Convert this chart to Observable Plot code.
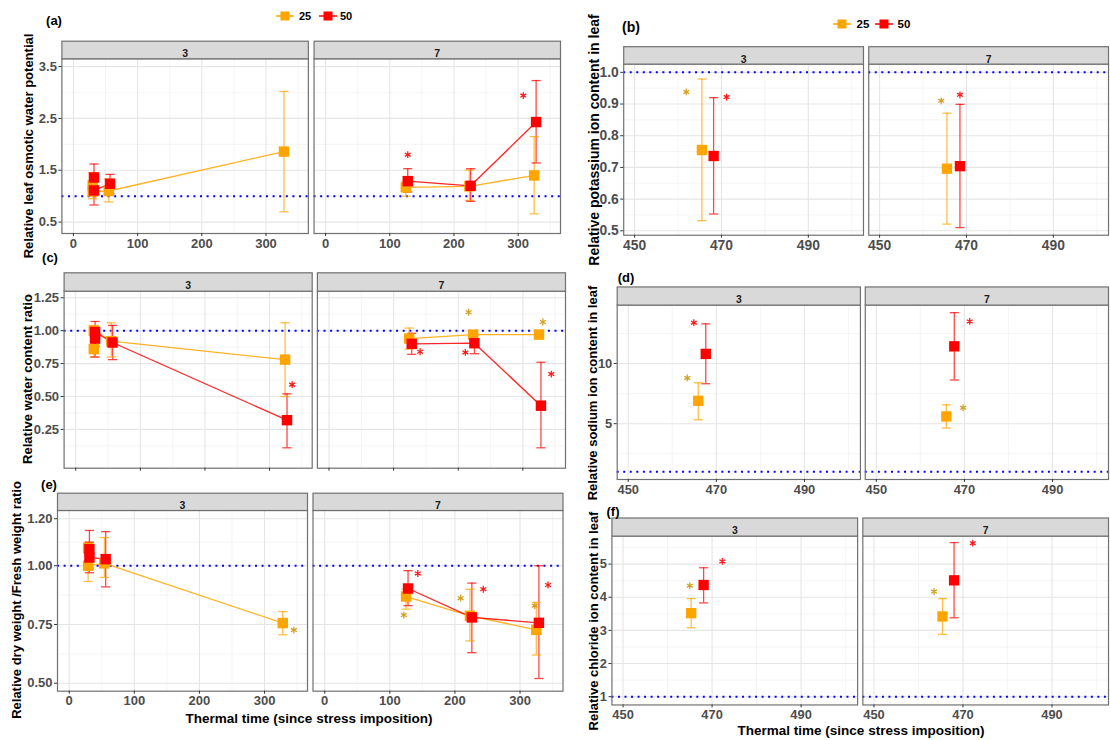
<!DOCTYPE html>
<html><head><meta charset="utf-8">
<script src="https://cdn.jsdelivr.net/npm/d3@7"></script>
<script src="https://cdn.jsdelivr.net/npm/@observablehq/plot@0.6"></script>
<style>
html,body{margin:0;padding:0;background:#fff;}
body{width:1110px;height:740px;position:relative;overflow:hidden;font-family:"Liberation Sans",Arial,sans-serif;}
.sub{position:absolute;}
.tag{position:absolute;font-weight:bold;font-size:13px;color:#000;transform:translate(-50%,-50%);white-space:nowrap;}
.ytitle{position:absolute;font-weight:bold;font-size:13px;color:#000;white-space:nowrap;transform:translate(-50%,-50%) rotate(-90deg);}
.xtitle{position:absolute;font-weight:bold;font-size:13.5px;color:#000;white-space:nowrap;transform:translate(-50%,-50%);}
.lg{position:absolute;transform:translate(-50%,-50%);font-weight:bold;font-size:11px;color:#000;}
</style></head><body>
<script>
// ---------------- data ----------------
const facets = ["3", "7"];
const doses = ["25", "50"];
const leftXTicks = [0, 100, 200, 300];
const leftXLabels = ["0", "100", "200", "300"];
const leftXMinor = [50, 150, 250, 350];
const rightXTicks = [450, 470, 490];
const rightXLabels = ["450", "470", "490"];
const rightXMinor = [460, 480, 500];

// (a) relative leaf osmotic water potential
const a_facet = ["3","3","3","3","3","3","3","7","7","7","7","7","7"];
const a_dose  = ["25","25","25","25","50","50","50","25","25","25","50","50","50"];
const a_time  = [30,30,55,328, 32,32,57, 125,224,325, 128,226,328];
const a_value = [1.21,1.09,1.10,1.86, 1.36,1.11,1.24, 1.17,1.19,1.40, 1.29,1.20,2.43];
const a_low   = [0.95,null,0.89,0.70, 1.10,0.83,1.05, 1.00,0.92,0.66, 1.08,0.90,1.64];
const a_high  = [1.45,null,1.33,3.02, 1.62,1.36,1.42, 1.27,1.50,2.15, 1.53,1.53,3.23];
const a_starFacet = ["7","7"];
const a_starDose  = ["50","50"];
const a_starTime  = [128, 308];
const a_starValue = [1.80, 2.94];
const a_yTicks = [0.5, 1.5, 2.5, 3.5];
const a_yLabels = ["0.5", "1.5", "2.5", "3.5"];
const a_yMinor = [1.0, 2.0, 3.0];

// (b) relative potassium ion content in leaf
const b_facet = ["3","3","7","7"];
const b_dose  = ["25","50","25","50"];
const b_time  = [465.5, 468.2, 465.5, 468.5];
const b_value = [0.755, 0.736, 0.696, 0.704];
const b_low   = [0.532, 0.553, 0.521, 0.510];
const b_high  = [0.979, 0.920, 0.871, 0.899];
const b_starFacet = ["3","3","7","7"];
const b_starDose  = ["25","50","25","50"];
const b_starTime  = [461.9, 471.2, 464.2, 468.5];
const b_starValue = [0.938, 0.922, 0.910, 0.929];
const b_yTicks = [0.5, 0.6, 0.7, 0.8, 0.9, 1.0];
const b_yLabels = ["0.5", "0.6", "0.7", "0.8", "0.9", "1.0"];
const b_yMinor = [0.55, 0.65, 0.75, 0.85, 0.95];

// (c) relative water content ratio
const c_facet = ["3","3","3","3","3","3","3","3","7","7","7","7","7","7"];
const c_dose  = ["25","25","25","25","50","50","50","50","25","25","25","50","50","50"];
const c_time  = [28,28,55,324, 30,30,57,327, 124,223,325, 128,225,328];
const c_value = [0.86,1.00,0.92,0.78, 0.94,0.99,0.91,0.32, 0.94,0.97,0.97, 0.90,0.905,0.43];
const c_low   = [0.80,0.95,0.80,0.50, 0.80,0.88,0.78,0.11, 0.86,0.94,0.95, 0.82,0.825,0.11];
const c_high  = [0.92,1.04,1.06,1.06, 1.02,1.07,1.04,0.52, 1.02,1.00,0.99, 0.98,0.97,0.76];
const c_starFacet = ["3","7","7","7","7","7"];
const c_starDose  = ["50","25","25","50","50","50"];
const c_starTime  = [335, 216, 331, 141, 211, 344];
const c_starValue = [0.59, 1.14, 1.066, 0.84, 0.835, 0.67];
const c_yTicks = [0.25, 0.5, 0.75, 1.0, 1.25];
const c_yLabels = ["0.25", "0.50", "0.75", "1.00", "1.25"];
const c_yMinor = [0.125, 0.375, 0.625, 0.875, 1.125];

// (d) relative sodium ion content in leaf
const d_facet = ["3","3","7","7"];
const d_dose  = ["25","50","25","50"];
const d_time  = [465.9, 467.6, 465.9, 467.7];
const d_value = [6.9, 10.8, 5.6, 11.43];
const d_low   = [5.33, 8.32, 4.64, 8.63];
const d_high  = [8.4, 13.3, 6.57, 14.23];
const d_starFacet = ["3","3","7","7"];
const d_starDose  = ["25","50","25","50"];
const d_starTime  = [463.4, 464.9, 469.7, 471.2];
const d_starValue = [8.8, 13.4, 6.32, 13.5];
const d_yTicks = [5, 10];
const d_yLabels = ["5", "10"];
const d_yMinor = [2.5, 7.5, 12.5];

// (e) relative dry weight / fresh weight ratio
const e_facet = ["3","3","3","3","3","3","3","7","7","7","7","7","7"];
const e_dose  = ["25","25","25","25","50","50","50","25","25","25","50","50","50"];
const e_time  = [29,29,54,328, 31,31,56, 125,223,325, 128,226,329];
const e_value = [1.075,1.00,1.01,0.756, 1.07,1.035,1.028, 0.869,0.787,0.727, 0.903,0.78,0.757];
const e_low   = [1.00,0.933,0.95,0.706, 0.99,0.97,0.91, 0.815,0.68,0.62, 0.83,0.63,0.52];
const e_high  = [1.10,1.07,1.12,0.805, 1.15,1.10,1.145, 0.90,0.90,0.844, 0.979,0.926,1.00];
const e_starFacet = ["3","7","7","7","7","7","7"];
const e_starDose  = ["25","25","50","25","50","25","50"];
const e_starTime  = [345, 121.5, 143, 208.7, 243.6, 322.6, 343];
const e_starValue = [0.726, 0.79, 0.967, 0.862, 0.90, 0.83, 0.918];
const e_yTicks = [0.5, 0.75, 1.0, 1.2];
const e_yLabels = ["0.50", "0.75", "1.00", "1.20"];
const e_yMinor = [0.625, 0.875, 1.1];

// (f) relative chloride ion content in leaf
const f_facet = ["3","3","7","7"];
const f_dose  = ["25","50","25","50"];
const f_time  = [465.3, 468.1, 465.4, 468.0];
const f_value = [3.52, 4.37, 3.42, 4.51];
const f_low   = [3.08, 3.83, 2.88, 3.38];
const f_high  = [3.96, 4.89, 3.96, 5.65];
const f_starFacet = ["3","3","7","7"];
const f_starDose  = ["25","50","25","50"];
const f_starTime  = [465.0, 472.3, 463.5, 472.2];
const f_starValue = [4.35, 5.08, 4.17, 5.63];
const f_yTicks = [1, 2, 3, 4, 5];
const f_yLabels = ["1", "2", "3", "4", "5"];
const f_yMinor = [1.5, 2.5, 3.5, 4.5, 5.5];

// ---------------- helpers ----------------
const COLORS = {"25": "#FFA500", "50": "#FF0000"};
const STAR = {"25": "#D4A020", "50": "#FF1A1A"};

function rows(f, d, t, v, lo, hi) {
  return t.map((_, i) => ({facet: f[i], dose: d[i], time: t[i], value: v[i],
    low: lo ? lo[i] : null, high: hi ? hi[i] : null}));
}
const capSym = {draw(ctx, size) { const r = Math.sqrt(size / Math.PI); ctx.moveTo(-r, 0); ctx.lineTo(r, 0); }};

function addDiv(cls, text, x, y, extra) {
  const el = document.createElement("div");
  el.className = cls; el.textContent = text;
  el.style.left = x + "px"; el.style.top = y + "px";
  if (extra) Object.assign(el.style, extra);
  document.body.appendChild(el);
  return el;
}

function makePanel(cfg) {
  const innerH = cfg.H - cfg.mt - cfg.mb;
  const R = cfg.W - cfg.ml - cfg.mr;
  const step = (R + cfg.gap) / 2;
  const pad = cfg.gap / step;
  const eb = cfg.data.filter(d => d.low != null);
  const fmtX = cfg.hideXLabels ? (() => "") : (d => cfg.xLabels[cfg.xTicks.indexOf(d)]);
  const fmtY = d => cfg.yLabels[cfg.yTicks.indexOf(d)];
  const fs = cfg.fs || 13;
  const marks = [
    Plot.gridY(cfg.yMinor, {stroke: "#f0f0f0", strokeOpacity: 1, strokeWidth: 0.7}),
    Plot.gridX(cfg.xMinor, {stroke: "#f0f0f0", strokeOpacity: 1, strokeWidth: 0.7}),
    Plot.gridY(cfg.yTicks, {stroke: "#e5e5e5", strokeOpacity: 1, strokeWidth: 1.1}),
    Plot.gridX(cfg.xTicks, {stroke: "#e5e5e5", strokeOpacity: 1, strokeWidth: 1.1}),
    Plot.ruleY([1], {stroke: "#0000FF", strokeWidth: 2, strokeDasharray: "2,4.6"}),
    Plot.ruleX(eb, {x: "time", y1: "low", y2: "high", fx: "facet", stroke: d => COLORS[d.dose], strokeOpacity: 0.72, strokeWidth: 1.3}),
    Plot.dot(eb, {x: "time", y: "low", fx: "facet", symbol: capSym, r: 4.6, fill: "none", stroke: d => COLORS[d.dose], strokeOpacity: 0.72, strokeWidth: 1.3}),
    Plot.dot(eb, {x: "time", y: "high", fx: "facet", symbol: capSym, r: 4.6, fill: "none", stroke: d => COLORS[d.dose], strokeOpacity: 0.72, strokeWidth: 1.3})
  ];
  if (cfg.lines) marks.push(Plot.line(cfg.data, {x: "time", y: "value", fx: "facet", z: "dose", stroke: d => COLORS[d.dose], strokeWidth: 1.3, strokeOpacity: 0.85}));
  marks.push(
    Plot.dot(cfg.data, {x: "time", y: "value", fx: "facet", symbol: "square", r: 5.9, fill: d => COLORS[d.dose], stroke: "none"}),
    Plot.dot(cfg.stars, {x: "time", y: "value", fx: "facet", symbol: "asterisk", r: 3.2, stroke: d => STAR[d.dose], strokeWidth: 1.3}),
    Plot.frame({stroke: "#707070", strokeWidth: 1.2}),
    Plot.frame({fill: "#d9d9d9", stroke: "#707070", strokeWidth: 1.2, insetBottom: innerH - cfg.stripH, dy: -cfg.stripH}),
    Plot.text(facets, {fx: d => d, text: d => d, frameAnchor: "top", dy: -cfg.stripH / 2, fontSize: 10.5, fontWeight: "bold", fill: "#1a1a1a"}),
    Plot.axisY({ticks: cfg.yTicks, tickFormat: fmtY, tickSize: 3, tickPadding: 2, fontSize: fs, fontWeight: "bold", fill: "#4d4d4d", stroke: "#333", label: null}),
    Plot.axisX({ticks: cfg.xTicks, tickFormat: fmtX, tickSize: 3, tickPadding: 2, fontSize: fs, fontWeight: "bold", fill: "#4d4d4d", stroke: "#333", label: null})
  );
  const svg = Plot.plot({
    width: cfg.W, height: cfg.H,
    marginLeft: cfg.ml, marginRight: cfg.mr, marginTop: cfg.mt, marginBottom: cfg.mb,
    x: {domain: cfg.xDomain},
    y: {domain: cfg.yDomain},
    fx: {domain: facets, paddingInner: pad, paddingOuter: 0, round: false, axis: null, label: null},
    color: {type: "identity"},
    style: {fontFamily: "Liberation Sans, Arial, sans-serif", overflow: "visible", background: "transparent"},
    marks
  });
  const holder = document.createElement("div");
  holder.className = "sub";
  holder.style.left = cfg.left + "px"; holder.style.top = cfg.top + "px";
  holder.appendChild(svg);
  document.body.appendChild(holder);
}

function legend(xs, y, size) {
  doses.forEach((dose, i) => {
    const k = document.createElement("div");
    k.className = "lg";
    k.style.left = xs[2 * i] + "px"; k.style.top = y + "px";
    k.innerHTML = `<svg width="18" height="12" style="display:block"><line x1="0" x2="18" y1="6" y2="6" stroke="${COLORS[dose]}" stroke-width="1.5"/><rect x="4.5" y="1.5" width="9" height="9" fill="${COLORS[dose]}"/></svg>`;
    document.body.appendChild(k);
    addDiv("lg", dose, xs[2 * i + 1], y, {fontSize: size + "px"});
  });
}

// ---------------- panels ----------------
makePanel({left: 0, top: 0, W: 562, H: 255, ml: 61.4, mr: 2, mt: 58.3, mb: 22, gap: 5.7, stripH: 17.6,
  xDomain: [-18, 366], yDomain: [0.28, 3.65], xTicks: leftXTicks, xLabels: leftXLabels, xMinor: leftXMinor,
  yTicks: a_yTicks, yLabels: a_yLabels, yMinor: a_yMinor, lines: true,
  data: rows(a_facet, a_dose, a_time, a_value, a_low, a_high),
  stars: rows(a_starFacet, a_starDose, a_starTime, a_starValue)});

makePanel({left: 560, top: 0, W: 556, H: 262, ml: 63.9, mr: 2, mt: 64.3, mb: 24.7, gap: 5.3, stripH: 17.6, fs: 14,
  xDomain: [447.5, 502.7], yDomain: [0.486, 1.026], xTicks: rightXTicks, xLabels: rightXLabels, xMinor: rightXMinor,
  yTicks: b_yTicks, yLabels: b_yLabels, yMinor: b_yMinor, lines: false,
  data: rows(b_facet, b_dose, b_time, b_value, b_low, b_high),
  stars: rows(b_starFacet, b_starDose, b_starTime, b_starValue)});

makePanel({left: 0, top: 250, W: 567, H: 240, ml: 63.6, mr: 2, mt: 40.7, mb: 22.3, gap: 5.2, stripH: 18.4, hideXLabels: true,
  xDomain: [-18, 366], yDomain: [-0.045, 1.30], xTicks: leftXTicks, xLabels: leftXLabels, xMinor: leftXMinor,
  yTicks: c_yTicks, yLabels: c_yLabels, yMinor: c_yMinor, lines: true,
  data: rows(c_facet, c_dose, c_time, c_value, c_low, c_high),
  stars: rows(c_starFacet, c_starDose, c_starTime, c_starValue)});

makePanel({left: 560, top: 260, W: 555, H: 245, ml: 57.2, mr: 2, mt: 45, mb: 24, gap: 4.9, stripH: 18.3,
  xDomain: [447.5, 502.7], yDomain: [0.36, 14.86], xTicks: rightXTicks, xLabels: rightXLabels, xMinor: rightXMinor,
  yTicks: d_yTicks, yLabels: d_yLabels, yMinor: d_yMinor, lines: false,
  data: rows(d_facet, d_dose, d_time, d_value, d_low, d_high),
  stars: rows(d_starFacet, d_starDose, d_starTime, d_starValue)});

makePanel({left: 0, top: 470, W: 565, H: 270, ml: 57, mr: 2.5, mt: 40, mb: 49.3, gap: 5.5, stripH: 17.3,
  xDomain: [-18, 366], yDomain: [0.466, 1.235], xTicks: leftXTicks, xLabels: leftXLabels, xMinor: leftXMinor,
  yTicks: e_yTicks, yLabels: e_yLabels, yMinor: e_yMinor, lines: true,
  data: rows(e_facet, e_dose, e_time, e_value, e_low, e_high),
  stars: rows(e_starFacet, e_starDose, e_starTime, e_starValue)});

makePanel({left: 560, top: 500, W: 556, H: 240, ml: 52, mr: 2, mt: 36, mb: 33.3, gap: 5.3, stripH: 18.3,
  xDomain: [447.5, 502.7], yDomain: [0.75, 5.845], xTicks: rightXTicks, xLabels: rightXLabels, xMinor: rightXMinor,
  yTicks: f_yTicks, yLabels: f_yLabels, yMinor: f_yMinor, lines: false,
  data: rows(f_facet, f_dose, f_time, f_value, f_low, f_high),
  stars: rows(f_starFacet, f_starDose, f_starTime, f_starValue)});

// ---------------- texts ----------------
addDiv("tag", "(a)", 54, 20);
addDiv("tag", "(b)", 631, 27, {fontSize: "14px"});
addDiv("tag", "(c)", 50, 257);
addDiv("tag", "(d)", 626, 277);
addDiv("tag", "(e)", 49, 484);
addDiv("tag", "(f)", 613, 511);

addDiv("ytitle", "Relative leaf osmotic water potential", 28, 146);
addDiv("ytitle", "Relative potassium ion content in leaf", 594, 140, {fontSize: "14px"});
addDiv("ytitle", "Relative water content ratio", 27, 379);
addDiv("ytitle", "Relative sodium ion content in leaf", 592, 393);
addDiv("ytitle", "Relative dry weight /Fresh weight ratio", 16, 600);
addDiv("ytitle", "Relative chloride ion content in leaf", 593, 621);

addDiv("xtitle", "Thermal time (since stress imposition)", 309, 718);
addDiv("xtitle", "Thermal time (since stress imposition)", 861, 730);

legend([285, 305, 328, 346], 16, 11);
legend([842, 863, 884, 904], 24, 11.5);
</script>
</body></html>
